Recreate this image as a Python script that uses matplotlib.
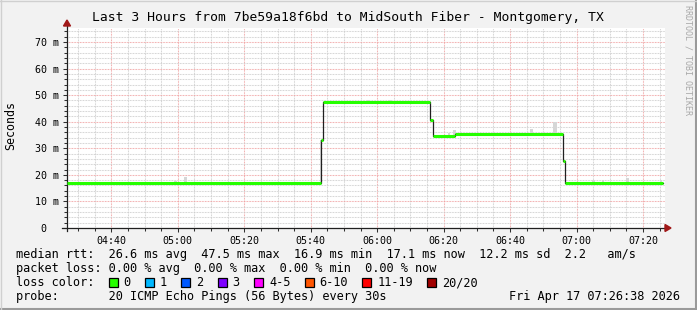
import datetime as dt
import matplotlib
matplotlib.use("Agg")
import matplotlib.pyplot as plt
import matplotlib.dates as mdates
from matplotlib.patches import Rectangle, Polygon
from matplotlib.lines import Line2D

W, H = 697, 310
DAY = dt.date(2026, 4, 17)
MONO = "DejaVu Sans Mono"

title = "Last 3 Hours from 7be59a18f6bd to MidSouth Fiber - Montgomery, TX"
start_time = "04:26:38"
end_time = "07:26:38"

# median rtt in ms, each value holds until the next time
median_times = ["04:26:38", "05:43:00", "05:43:35", "06:15:50", "06:16:40",
                "06:23:25", "06:55:55", "06:56:30"]
median_ms = [16.9, 33.1, 47.5, 40.6, 34.7, 35.4, 25.3, 17.05]
median_end = "07:26:05"

# smoke (spread of the single pings) around the median
smoke_times = ["04:59:26", "05:02:14", "05:43:10", "05:57:30", "06:03:44",
               "06:21:40", "06:23:20", "06:46:26", "06:53:38", "07:05:14",
               "07:07:50", "07:15:14", "07:25:30"]
smoke_low_ms = [16.9, 16.9, 16.9, 47.5, 47.5, 34.7, 34.7, 35.4, 35.4, 17.05,
                17.05, 17.05, 17.05]
smoke_high_ms = [17.8, 19.1, 33.1, 48.0, 48.1, 35.6, 37.0, 37.3, 39.9, 18.1,
                 18.0, 18.7, 18.0]
smoke_width_min = [0.9, 0.9, 0.6, 0.9, 1.2, 0.6, 0.9, 0.7, 1.2, 0.9, 0.6, 0.9, 0.6]

y_ticks = [0, 10, 20, 30, 40, 50, 60, 70]
y_labels = ["0  ", "10 m", "20 m", "30 m", "40 m", "50 m", "60 m", "70 m"]

legend_rows = [
    "median rtt:  26.6 ms avg  47.5 ms max  16.9 ms min  17.1 ms now  12.2 ms sd  2.2   am/s",
    "packet loss: 0.00 % avg  0.00 % max  0.00 % min  0.00 % now",
    "loss color:",
    "probe:       20 ICMP Echo Pings (56 Bytes) every 30s",
]
stamp = "Fri Apr 17 07:26:38 2026"

loss_labels = ["0", "1", "2", "3", "4-5", "6-10", "11-19", "20/20"]
loss_colors = ["#26ff00", "#00b8ff", "#0059ff", "#7e00ff", "#ff00ff",
               "#ff5500", "#ff0000", "#a10000"]


def t(s):
    h, m, sec = (int(v) for v in s.split(":"))
    return mdates.date2num(dt.datetime(DAY.year, DAY.month, DAY.day, h, m, sec))


def fx(x):
    return x / W


def fy(y):
    return 1 - y / H


fig = plt.figure(figsize=(W / 100, H / 100), dpi=100, facecolor="#f2f2f2")

# plot area in pixels: x 67..665, y 28..228
ax = fig.add_axes([fx(67), fy(228), 598 / W, 200 / H], facecolor="white")
ax.set_xlim(t(start_time), t(end_time))
ax.set_ylim(0, 200 / 2.657)
for sp in ax.spines.values():
    sp.set_visible(False)

# grid
ax.xaxis.set_major_locator(mdates.MinuteLocator(byminute=[0, 20, 40]))
ax.xaxis.set_minor_locator(mdates.MinuteLocator(byminute=range(0, 60, 5)))
ax.xaxis.set_major_formatter(mdates.DateFormatter("%H:%M"))
ax.set_yticks(y_ticks)
ax.set_yticks([v for v in range(0, 76, 2)], minor=True)
ax.set_yticklabels(y_labels)
ax.grid(which="minor", color="#cccccc", lw=0.75, ls=(0, (0.75, 0.75)))
ax.grid(which="major", color="#f0a0a0", lw=0.75, ls=(0, (0.75, 0.75)))
ax.set_axisbelow(True)
ax.tick_params(which="major", length=3, width=0.75, color="#303030",
               labelsize=7.2, pad=3)
ax.tick_params(which="minor", length=2, width=0.75, color="#303030")
for lab in ax.get_xticklabels() + ax.get_yticklabels():
    lab.set_fontfamily(MONO)

# smoke
smoke_x = [t(s) for s in smoke_times]
ax.bar(smoke_x, [hi - lo for hi, lo in zip(smoke_high_ms, smoke_low_ms)],
       bottom=smoke_low_ms, width=[w / 1440 for w in smoke_width_min],
       color="#d6d6d6", lw=0, zorder=2)

# median line: dark step line, loss colored segments on top
mt = [t(s) for s in median_times] + [t(median_end)]
mv = median_ms + [median_ms[-1]]
ax.step(mt, mv, where="post", color="#202020", lw=0.9, zorder=3)
ax.hlines(median_ms, mt[:-1], mt[1:], color=loss_colors[0], lw=2.2, zorder=4)

# axes with arrows
ax.add_artist(Line2D([fx(62), fx(665)], [fy(228), fy(228)], transform=fig.transFigure,
                     color="#202020", lw=0.9, clip_on=False))
ax.add_artist(Line2D([fx(67), fx(67)], [fy(231), fy(25)], transform=fig.transFigure,
                     color="#202020", lw=0.9, clip_on=False))
fig.patches.append(Polygon([(fx(665), fy(224.5)), (fx(665), fy(231.5)), (fx(671), fy(228))],
                           closed=True, transform=fig.transFigure, color="#a01818"))
fig.patches.append(Polygon([(fx(63.5), fy(26)), (fx(70.5), fy(26)), (fx(67), fy(20))],
                           closed=True, transform=fig.transFigure, color="#a01818"))

# texts
fig.text(fx(348), fy(18), title, ha="center", va="center", fontsize=9.4, family=MONO)
fig.text(fx(11), fy(126), "Seconds", rotation=90, ha="center", va="center",
         fontsize=8.4, family=MONO)
fig.text(fx(688), fy(5), "RRDTOOL / TOBI OETIKER", rotation=-90, ha="center", va="top",
         fontsize=6, family=MONO, color="#a8a8a8")

row_y = [254.5, 268.5, 282.5, 296.5]
for txt, y in zip(legend_rows, row_y):
    fig.text(fx(16), fy(y), txt, ha="left", va="center", fontsize=8.52, family=MONO)
fig.text(fx(680), fy(row_y[3]), stamp, ha="right", va="center", fontsize=8.52, family=MONO)

char_w = 7.12
x = 16 + 13 * char_w
for lab, col in zip(loss_labels, loss_colors):
    fig.patches.append(Rectangle((fx(x), fy(row_y[2] + 4.5)), 9 / W, 9 / H,
                                 transform=fig.transFigure, facecolor=col,
                                 edgecolor="black", lw=0.9))
    fig.text(fx(x + 15), fy(row_y[2]), lab, ha="left", va="center",
             fontsize=8.52, family=MONO)
    x = x + 15 + (len(lab) + 2) * char_w

# frame shading
fig.add_artist(Line2D([0, 1], [fy(309), fy(309)], color="#9a9a9a", lw=1.5))
fig.add_artist(Line2D([fx(696), fx(696)], [0, 1], color="#9a9a9a", lw=1.5))
fig.add_artist(Line2D([0, 1], [fy(0.5), fy(0.5)], color="#d0d0d0", lw=1.0))
fig.add_artist(Line2D([fx(0.5), fx(0.5)], [0, 1], color="#d0d0d0", lw=1.0))

fig.savefig("out.png", dpi=100, facecolor=fig.get_facecolor())
